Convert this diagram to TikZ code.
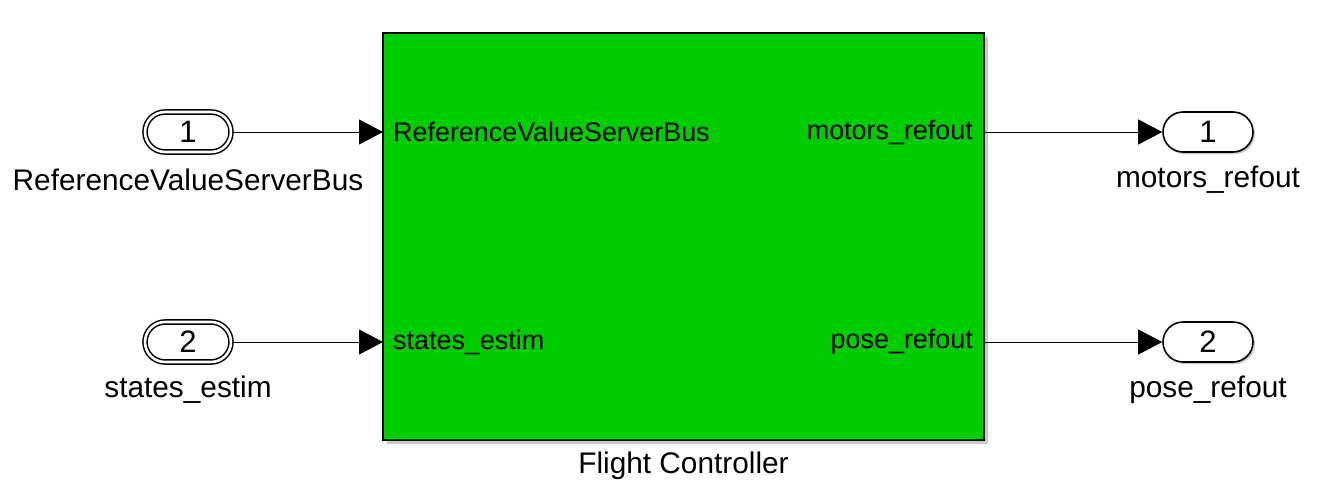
\documentclass[tikz,border=0pt]{standalone}
\usepackage{fontspec}
\setmainfont{Liberation Sans}
\usetikzlibrary{shadows,arrows.meta}
\definecolor{blockgreen}{RGB}{0,204,0}
\tikzset{
  px/.style={x=1pt,y=-1pt},
  portshadow/.style={drop shadow={shadow xshift=2pt,shadow yshift=-2pt,opacity=0.35,fill=black!60}},
  inport/.style={draw,line width=1.5pt,rounded corners=20pt,minimum width=86pt,minimum height=40pt,fill=white,portshadow,inner sep=0pt,font=\fontsize{31}{33}\selectfont,
     double=white,double distance=2.6pt},
  outport/.style={draw,line width=1.6pt,rounded corners=20pt,minimum width=90pt,minimum height=40pt,fill=white,portshadow,inner sep=0pt,font=\fontsize{31}{33}\selectfont},
  fcblock/.style={draw,line width=2pt,fill=blockgreen,minimum width=601pt,minimum height=407pt,inner sep=0pt,
     drop shadow={shadow xshift=4pt,shadow yshift=-4pt,opacity=0.35,fill=black!60}},
  outlabel/.style={font=\fontsize{29.8}{32}\selectfont,inner sep=0pt},
  inlabel/.style={font=\fontsize{26.9}{30}\selectfont,inner sep=0pt},
  sig/.style={line width=1pt,-{Triangle[length=24pt,width=25pt]}}
}
\begin{document}
\begin{tikzpicture}[px]
\useasboundingbox (0,0) rectangle (1330,501);
\node[fcblock] (fc) at (683.5,236.5) {};
\node[inport] (in1) at (188,132) {1};
\node[inport] (in2) at (188,342) {2};
\node[outport] (out1) at (1208,132) {1};
\node[outport] (out2) at (1208,342) {2};
\node[outlabel] (lin1) at (188,180) {ReferenceValueServerBus};
\node[outlabel] (lin2) at (188,390) {states\_estim};
\node[outlabel] (lout1) at (1208,180) {motors\_refout};
\node[outlabel] (lout2) at (1208,390) {pose\_refout};
\node[outlabel] (lfc) at (683.5,466) {Flight Controller};
\coordinate (fcin1) at (383,132);
\coordinate (fcin2) at (383,342);
\coordinate (fcout1) at (984,132);
\coordinate (fcout2) at (984,342);
\node[inlabel,anchor=west] (pin1) at (393,132) {ReferenceValueServerBus};
\node[inlabel,anchor=west] (pin2) at (393,342) {states\_estim};
\node[inlabel,anchor=east] (pout1) at (973,132) {motors\_refout};
\node[inlabel,anchor=east] (pout2) at (973,342) {pose\_refout};
\draw[sig] (in1.east) -- (fcin1);
\draw[sig] (in2.east) -- (fcin2);
\draw[sig] (fcout1) -- (out1.west);
\draw[sig] (fcout2) -- (out2.west);
\end{tikzpicture}
\end{document}
